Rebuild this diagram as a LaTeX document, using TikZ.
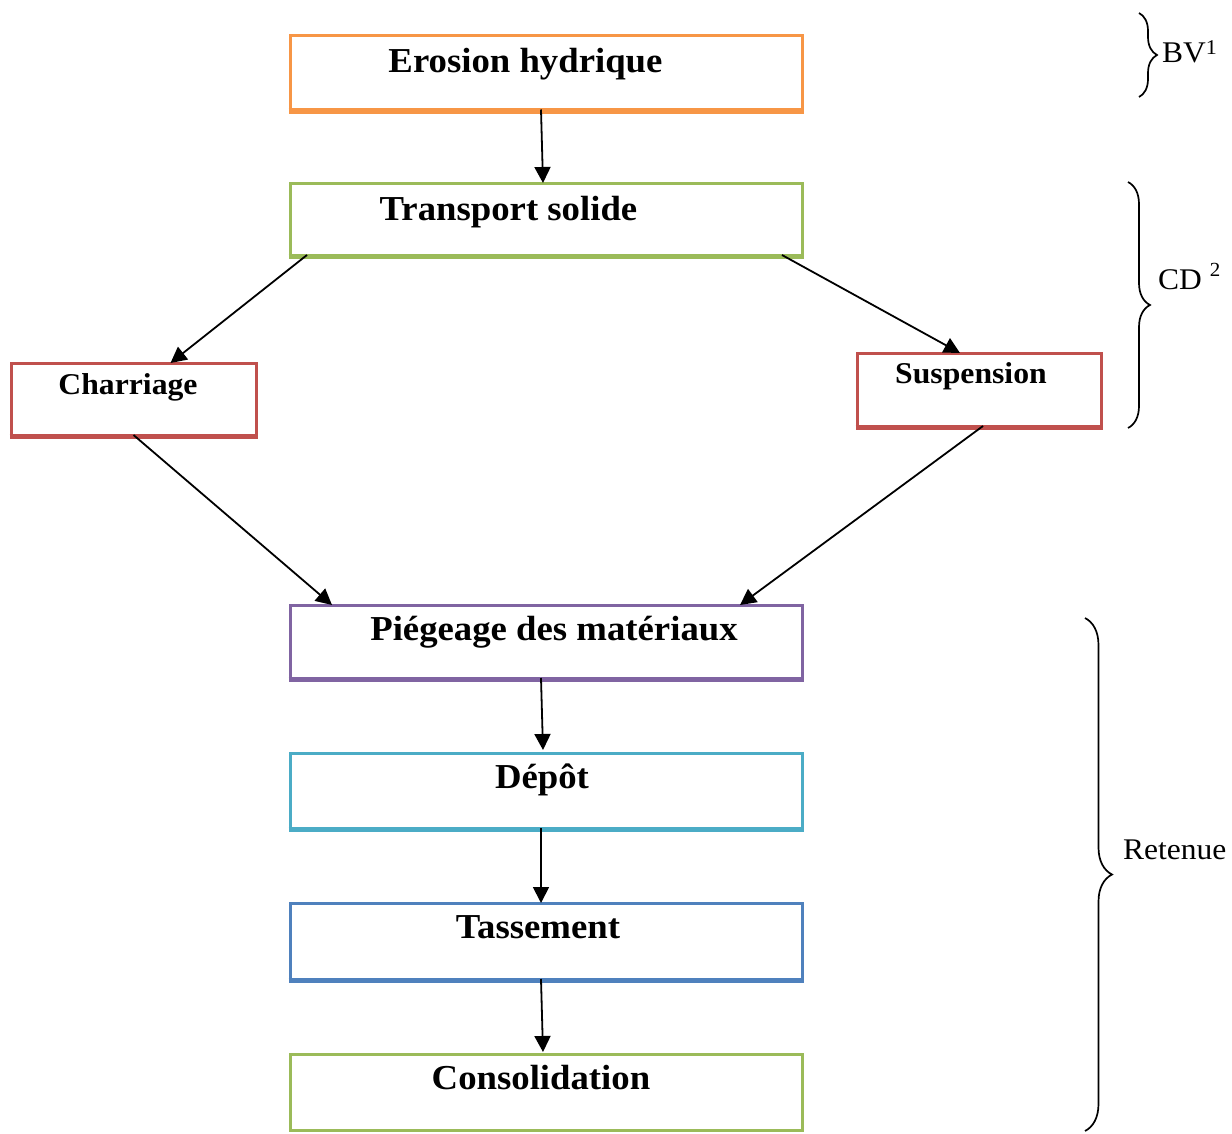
\documentclass[tikz,border=0pt]{standalone}
\usepackage{fontspec}
\setmainfont{Liberation Serif}[FakeStretch=1.05]
\usetikzlibrary{arrows.meta,decorations.pathreplacing}
\definecolor{cOrange}{HTML}{F79646}
\definecolor{cGreen}{HTML}{9BBB59}
\definecolor{cRed}{HTML}{C0504D}
\definecolor{cPurple}{HTML}{8064A2}
\definecolor{cAqua}{HTML}{4BACC6}
\definecolor{cBlue}{HTML}{4F81BD}
\newcommand\boxfoot[2]{\draw[#2, line width=5.5pt] ([yshift=-1.3pt,xshift=-1.5pt]#1.south west) -- ([yshift=-1.3pt,xshift=1.5pt]#1.south east);}
\begin{document}
\begin{tikzpicture}[x=1pt,y=-1pt,
  box/.style={draw=#1, line width=3pt, minimum width=512pt, minimum height=74pt, inner sep=0pt, outer sep=0pt},
  sbox/.style={box=#1, minimum width=245pt},
  big/.style={anchor=base, inner sep=0pt, font=\fontsize{35}{40}\selectfont\bfseries},
  small/.style={anchor=base, inner sep=0pt, font=\fontsize{30.2}{34}\selectfont\bfseries},
  side/.style={anchor=base west, inner sep=0pt, font=\fontsize{30}{34}\selectfont},
  arr/.style={line width=1.8pt, -{Triangle[length=16pt,width=16pt]}},
  brc/.style={decorate, decoration={brace, amplitude=#1}, line width=1.7pt},
]
\useasboundingbox (0,0) rectangle (1232,1133);
\fill[white] (0,0) rectangle (1232,1133);

% boxes
\node[box=cOrange] (e) at (546,72.5) {};
\node[box=cGreen, minimum height=72pt] (t) at (546,219) {};
\node[sbox=cRed, minimum height=72pt] (c) at (133.5,399) {};
\node[sbox=cRed, minimum width=244pt, minimum height=73pt] (s) at (979,389.5) {};
\node[box=cPurple, minimum height=73pt] (p) at (546,641.5) {};
\node[box=cAqua, minimum height=75pt] (d) at (546,790.5) {};
\node[box=cBlue, minimum height=76pt] (ta) at (546,941) {};
\node[box=cGreen, minimum height=76pt] (co) at (546,1092) {};
\boxfoot{e}{cOrange}
\boxfoot{t}{cGreen}
\boxfoot{c}{cRed}
\boxfoot{s}{cRed}
\boxfoot{p}{cPurple}
\boxfoot{d}{cAqua}
\boxfoot{ta}{cBlue}

% texts
\node[big] (te) at (525.5,72) {Erosion hydrique};
\node[big] (tt) at (508.5,220) {Transport solide};
\node[small] (tc) at (128,394) {Charriage};
\node[small] (ts) at (971,383) {Suspension};
\node[big] (tp) at (554,640) {Piégeage des matériaux};
\node[big] (td) at (542,788) {Dépôt};
\node[big] (tta) at (538,938) {Tassement};
\node[big] (tco) at (541,1089) {Consolidation};

% arrows
\draw[arr] ([xshift=-5pt]e.south) -- ([xshift=-3pt]t.north);
\draw[arr] ([xshift=17pt]t.south west) -- ([xshift=37pt]c.north);
\draw[arr] ([xshift=-20pt]t.south east) -- ([xshift=-19pt]s.north);
\draw[arr] (c.south) -- ([xshift=42pt]p.north west);
\draw[arr] ([xshift=4pt]s.south) -- ([xshift=-62pt]p.north east);
\draw[arr] ([xshift=-5pt]p.south) -- ([xshift=-3pt,yshift=3pt]d.north);
\draw[arr] ([xshift=-5pt]d.south) -- ([xshift=-5pt]ta.north);
\draw[arr] ([xshift=-5pt]ta.south) -- ([xshift=-3pt,yshift=2pt]co.north);

% braces
\coordinate (bv1) at (1139,13);
\coordinate (bv2) at (1139,97);
\coordinate (cd1) at (1128,182);
\coordinate (cd2) at (1128,428);
\coordinate (re1) at (1085,618);
\coordinate (re2) at (1085,1131);
\draw[brc=18pt] (bv1) -- (bv2);
\draw[brc=22pt] (cd1) -- (cd2);
\draw[brc=27pt] (re1) -- (re2);
\node[side] (lbv) at (1162,62.5) {BV\raisebox{8pt}{\fontsize{21}{21}\selectfont 1}};
\node[side] (lcd) at (1158,289) {CD \raisebox{13pt}{\fontsize{20}{20}\selectfont 2}};
\node[side] (lre) at (1123,859) {Retenue};
\end{tikzpicture}
\end{document}
